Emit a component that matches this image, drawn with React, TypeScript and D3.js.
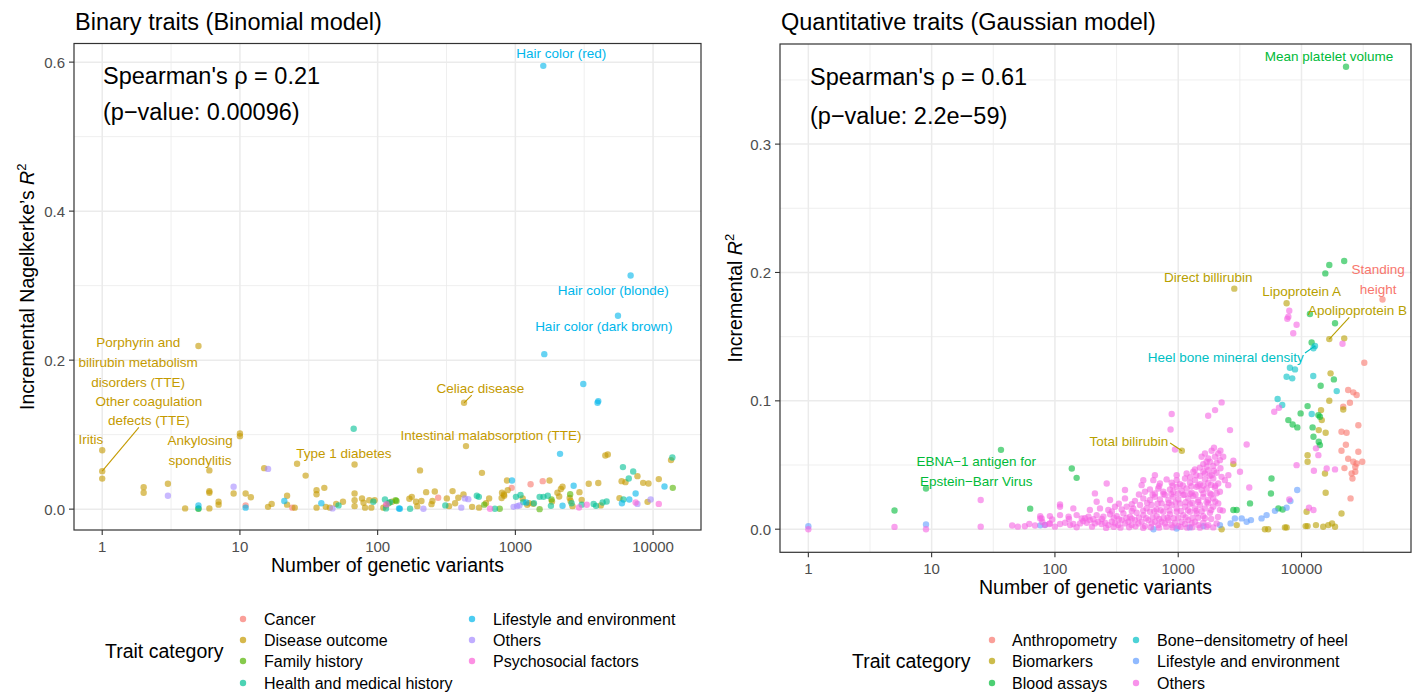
import React from 'react';
import * as d3 from 'd3';

type Pt = [number, number];

const FONT = '"Liberation Sans", Arial, Helvetica, sans-serif';

// ---------- Binary traits (Binomial model) ----------
const binaryCategories = [
  'Cancer',
  'Disease outcome',
  'Family history',
  'Health and medical history',
  'Lifestyle and environment',
  'Others',
  'Psychosocial factors',
];
const binaryColors = ['#F8766D', '#C49A00', '#53B400', '#00C094', '#00B6EB', '#A58AFF', '#FB61D7'];

const binCancer: Pt[] = [
  [11, 0.005], [24, 0.002], [115, 0.005], [275, 0.0152], [940, 0.0286], [1290, 0.0335], [1580, 0.0376],
];
const binDisease: Pt[] = [
  [5, 0.219], [1, 0.079], [1, 0.051], [1, 0.041], [2, 0.0295], [2, 0.022], [3, 0.034], [4, 0.001],
  [6, 0.052], [6, 0.024], [6, 0.022], [6, 0.001], [7, 0.01], [7, 0.006], [9, 0.021], [10, 0.1016],
  [10, 0.098], [11, 0.021], [12, 0.016], [15, 0.055], [16, 0.003], [17, 0.007], [22, 0.018], [22, 0.006],
  [25, 0.002], [26, 0.061], [30, 0.045], [36, 0.0255], [36, 0.02], [36, 0.002], [41, 0.0286], [42, 0.003],
  [45, 0.002], [50, 0.007], [56, 0.01], [68, 0.06], [68, 0.021], [68, 0.012], [68, 0.004], [77, 0.0144],
  [79, 0.0085], [81, 0.002], [87, 0.012], [90, 0.002], [95, 0.012], [110, 0.002], [127, 0.01], [170, 0.014],
  [177, 0.0165], [190, 0.01], [194, 0.004], [203, 0.052], [208, 0.011], [225, 0.0228], [246, 0.0067],
  [250, 0.011], [260, 0.0237], [318, 0.0144], [330, 0.004], [350, 0.0242], [365, 0.008], [385, 0.0152],
  [420, 0.0197], [424, 0.1427], [438, 0.0846], [485, 0.003], [545, 0.002], [572, 0.0487], [612, 0.008],
  [645, 0.0144], [795, 0.015], [800, 0.022], [825, 0.0197], [830, 0.018], [870, 0.0385], [880, 0.0255],
  [1130, 0.0144], [1220, 0.0058], [1256, 0.0081], [1349, 0.0071], [1770, 0.0385], [1845, 0.0103],
  [2020, 0.022], [2080, 0.017], [2140, 0.027], [2200, 0.03], [2480, 0.015], [2520, 0.011], [2600, 0.004],
  [2920, 0.0228], [3030, 0.0125], [3410, 0.034], [4000, 0.035], [4170, 0.005], [4500, 0.072], [4690, 0.0734],
  [5700, 0.0148], [5910, 0.0376], [6300, 0.0362], [7700, 0.0443], [8470, 0.0353], [9120, 0.0098],
  [9260, 0.0345], [11000, 0.0403], [13500, 0.0658],
];
const binFamily: Pt[] = [
  [5, 0.0005], [120, 0.008], [135, 0.012], [137, 0.011], [595, 0.006], [770, 0.0006], [1500, 0],
  [1830, 0.013], [2500, 0.02], [13900, 0.0286],
];
const binHealth: Pt[] = [
  [5, 0.001], [52, 0.005], [67, 0.108], [93, 0.01], [113, 0.013], [115, 0.001], [123, 0.0094], [172, 0.0006],
  [310, 0.005], [525, 0.018], [543, 0.0165], [710, 0.0006], [1010, 0.0165], [1090, 0.019], [1141, 0.0094],
  [1364, 0.008], [1500, 0.0165], [1600, 0.0165], [1720, 0.018], [1812, 0.0044], [2560, 0.008], [3030, 0.006],
  [3700, 0.007], [3850, 0.0044], [4300, 0.009], [4600, 0.0103], [6040, 0.0564], [6100, 0.013], [6660, 0.0412],
  [7170, 0.0506], [13800, 0.0694],
];
const binLifestyle: Pt[] = [
  [5, 0.005], [11, 0.002], [21, 0.011], [39, 0.008], [143, 0.001], [145, 0.0006], [945, 0.0385], [1200, 0.009],
  [1595, 0.595], [1622, 0.208], [2110, 0.0742], [2200, 0.0045], [2650, 0.0313], [3113, 0.168], [3950, 0.1427],
  [4000, 0.145], [5560, 0.2595], [5940, 0.008], [6720, 0.013], [6870, 0.3137], [7470, 0.021], [12100, 0.0304],
];
const binOthers: Pt[] = [
  [3, 0.018], [9, 0.03], [16, 0.054], [47, 0.001], [215, 0.0006], [405, 0.002], [430, 0.0144], [455, 0.0134],
  [970, 0.003], [1030, 0.004], [1070, 0.005], [7700, 0.007], [9600, 0.013],
];
const binPsycho: Pt[] = [
  [116, 0.0067], [655, 0.0006], [2900, 0.0023], [3300, 0.0058], [7470, 0.009], [11000, 0.007],
];
const binarySeries = [binCancer, binDisease, binFamily, binHealth, binLifestyle, binOthers, binPsycho];

// ---------- Quantitative traits (Gaussian model) ----------
const quantCategories = [
  'Anthropometry',
  'Biomarkers',
  'Blood assays',
  'Bone\u2212densitometry of heel',
  'Lifestyle and environment',
  'Others',
];
const quantColors = ['#F8766D', '#B79F00', '#00BA38', '#00BFC4', '#619CFF', '#F564E3'];

const qAnthro: Pt[] = [
  [45400, 0.179], [32300, 0.1297], [23900, 0.1084], [26300, 0.1066], [28000, 0.1045], [24700, 0.0985],
  [21800, 0.0954], [21100, 0.0759], [23200, 0.0751], [28900, 0.081], [22900, 0.0658], [21100, 0.0611],
  [28900, 0.0603], [23900, 0.0549], [26300, 0.0525], [28000, 0.0512], [31100, 0.0525], [27300, 0.0486],
  [22300, 0.0476], [25500, 0.0434], [27300, 0.0447], [25900, 0.0395], [25000, 0.024],
];
const qBio: Pt[] = [
  [2850, 0.1874], [7570, 0.176], [16800, 0.1481], [22200, 0.1487], [17200, 0.1214], [16800, 0.1001],
  [21800, 0.0933], [14400, 0.0928], [14600, 0.085], [13800, 0.0772], [15700, 0.0751], [11200, 0.0577],
  [11200, 0.0525], [15500, 0.0434], [15700, 0.0284], [21100, 0.0122], [11000, 0.0136], [1070, 0.0611],
  [2250, 0], [2980, 0.0032], [2800, 0.0507], [5050, 0], [5370, 0], [7340, 0.0014], [7570, 0.0014],
  [10800, 0.0024], [11200, 0.0024], [13100, 0.0032], [15000, 0.0019], [16500, 0.0032], [17700, 0.0045],
  [18700, 0.0019],
];
const qBlood: Pt[] = [
  [5, 0.0146], [9, 0.0317], [36.5, 0.0618], [63, 0.016], [137, 0.0473], [150, 0.04], [2800, 0.0149],
  [2980, 0.0149], [3820, 0.0201], [5650, 0.0278], [5710, 0.0395], [6490, 0.0162], [7030, 0.0154],
  [7820, 0.085], [8470, 0.0816], [9250, 0.0793], [9840, 0.0902], [11200, 0.0959], [12300, 0.0793],
  [12500, 0.072], [13800, 0.0681], [14100, 0.0655], [13700, 0.0889], [14100, 0.0876], [14300, 0.1118],
  [18300, 0.1167], [12080, 0.1455], [11700, 0.1676], [18700, 0.1604], [15600, 0.1993], [16800, 0.2058],
  [22200, 0.209], [22960, 0.3603],
];
const qBone: Pt[] = [
  [12860, 0.1427], [12500, 0.141], [8050, 0.1258], [8850, 0.1245], [7570, 0.1188], [8410, 0.1175],
  [12450, 0.1193], [19300, 0.1076], [6400, 0.1014], [6980, 0.0967], [12100, 0.0897],
];
const qLife: Pt[] = [
  [1, 0.0023], [9, 0.0037], [76, 0.003], [83, 0.0034], [630, 0], [970, 0.0006], [1240, 0.0014],
  [1600, 0.0024], [2180, 0.0032], [2660, 0.0045], [2880, 0.0084], [3270, 0.0084], [3590, 0.0058],
  [3890, 0.0071], [4740, 0.0084], [5210, 0.011], [6090, 0.0143], [7570, 0.0167], [8130, 0.0219], [9230, 0.0305],
];
const qOthers: Pt[] = [
  [1, 0], [5, 0.0018], [9, 0], [25, 0.0228], [25, 0.002], [45, 0.0029], [50, 0.002], [57, 0.0023],
  [62, 0.004], [69, 0.0029], [78, 0.0083], [79, 0.0057], [90, 0.004],
  [76, 0.0084], [83, 0.0032], [91, 0.0045], [110, 0.004], [121, 0.005], [133, 0.0032], [141, 0.004],
  [160, 0.0045], [170, 0.0063], [181, 0.005], [192, 0.0071], [211, 0.0045], [225, 0.0058], [239, 0.004],
  [255, 0.005], [271, 0.0032], [289, 0.0058], [307, 0.0045], [327, 0.0032], [348, 0.0071], [370, 0.0045],
  [394, 0.0058], [419, 0.0032], [446, 0.0071], [475, 0.0045], [505, 0.0058], [537, 0.0024], [572, 0.0071],
  [608, 0.0045], [647, 0.0058], [689, 0.0032], [733, 0.0058], [780, 0.0045], [831, 0.0071], [885, 0.0032],
  [941, 0.005], [1002, 0.0024], [1066, 0.0058], [1135, 0.004], [1207, 0.0071], [1285, 0.0045],
  [1367, 0.0058], [1455, 0.0032], [1597, 0.005], [1753, 0.0032], [1924, 0.0014], [2048, 0.0045],
  [100, 0.002], [150, 0.0015], [200, 0.002], [260, 0.001], [300, 0.0018], [340, 0.0012], [400, 0.0015],
  [450, 0.0022], [520, 0.001], [600, 0.0015], [700, 0.0012], [800, 0.002], [900, 0.0014], [1050, 0.0018],
  [1180, 0.0012], [1300, 0.0015], [1500, 0.0012], [1700, 0.002],
  [95, 0.0075], [130, 0.008], [175, 0.0085], [205, 0.0078], [240, 0.008], [300, 0.009], [330, 0.0078],
  [380, 0.0088], [420, 0.0082], [480, 0.009], [550, 0.0085], [620, 0.0092], [700, 0.008], [760, 0.0088],
  [820, 0.009], [920, 0.0085], [1000, 0.009], [1150, 0.0092], [1300, 0.0088], [1450, 0.009], [1650, 0.0085],
  [1850, 0.008], [2100, 0.0095],
  [76, 0.0102], [91, 0.0102], [110, 0.011], [129, 0.0097], [150, 0.011], [165, 0.0084], [187, 0.0097],
  [218, 0.011], [247, 0.0097], [280, 0.0117], [317, 0.0102], [359, 0.0123], [406, 0.0097], [460, 0.0128],
  [521, 0.011], [590, 0.0136], [668, 0.0102], [757, 0.0136], [857, 0.0117], [971, 0.0136], [1100, 0.011],
  [1245, 0.0136], [1410, 0.0123], [1597, 0.0102], [1808, 0.0128],
  [290, 0.0138], [420, 0.0142], [520, 0.0145], [640, 0.014], [720, 0.0148], [850, 0.0145], [1050, 0.0142],
  [1200, 0.0148], [1400, 0.0145], [1550, 0.014], [1850, 0.015], [2300, 0.0145],
  [110, 0.0175], [141, 0.0162], [192, 0.0149], [232, 0.0162], [271, 0.0149], [307, 0.0175], [348, 0.0154],
  [382, 0.0175], [432, 0.0162], [490, 0.0188], [554, 0.0162], [608, 0.0188], [668, 0.0154], [733, 0.0201],
  [805, 0.0175], [885, 0.0188], [971, 0.0162], [1033, 0.0201], [1135, 0.0175], [1245, 0.0195],
  [1367, 0.0162], [1501, 0.0188], [1648, 0.0162], [1753, 0.0201], [1924, 0.0175], [2179, 0.0149],
  [330, 0.0198], [420, 0.0195], [560, 0.0205], [680, 0.0198], [840, 0.0205], [950, 0.0208], [1150, 0.021],
  [1300, 0.0205], [1450, 0.0212], [1700, 0.021], [2000, 0.0215],
  [110, 0.0193], [218, 0.0214], [280, 0.0227], [370, 0.024], [446, 0.0221], [521, 0.024], [590, 0.0227],
  [647, 0.0252], [711, 0.0232], [780, 0.0266], [831, 0.0227], [912, 0.0252], [1002, 0.0232], [1100, 0.0266],
  [1207, 0.024], [1325, 0.0258], [1455, 0.0227], [1597, 0.0252], [1753, 0.0227], [1924, 0.024], [2112, 0.0201],
  [480, 0.027], [620, 0.0268], [760, 0.0275], [880, 0.0272], [1000, 0.0278], [1120, 0.027], [1250, 0.0275],
  [1380, 0.027], [1600, 0.0278], [1850, 0.027], [2050, 0.028],
  [211, 0.0279], [370, 0.0305], [537, 0.0292], [590, 0.031], [647, 0.0279], [689, 0.0317], [757, 0.0292],
  [857, 0.031], [912, 0.0292], [971, 0.033], [1066, 0.0299], [1170, 0.0317], [1285, 0.0284], [1410, 0.033],
  [1548, 0.0305], [1700, 0.0317], [1808, 0.0279], [1985, 0.0325], [2179, 0.0292],
  [700, 0.0335], [900, 0.0338], [1090, 0.034], [1280, 0.0335], [1450, 0.034], [1600, 0.034], [1850, 0.0345],
  [2000, 0.0338],
  [263, 0.0356], [505, 0.0343], [628, 0.0382], [711, 0.0356], [805, 0.0388], [885, 0.0362], [971, 0.0382],
  [1033, 0.0351], [1135, 0.0395], [1245, 0.0362], [1367, 0.0382], [1501, 0.0351], [1648, 0.0388],
  [1753, 0.0362], [1924, 0.0395], [2112, 0.0356], [2392, 0.0382], [2545, 0.0343],
  [521, 0.0382], [647, 0.0421], [971, 0.0421], [1170, 0.0434], [1325, 0.0447], [1501, 0.0414],
  [1648, 0.0434], [1753, 0.046], [1865, 0.0421], [2048, 0.044], [2248, 0.0408],
  [1250, 0.0405], [1400, 0.042], [1600, 0.045], [1800, 0.0415], [1950, 0.0455], [2200, 0.0475],
  [1500, 0.048], [1700, 0.0525],
  [1367, 0.0466], [1597, 0.0507], [1700, 0.0486], [1808, 0.0525], [1924, 0.0492], [2048, 0.0517],
  [2179, 0.0538], [1985, 0.0564], [1753, 0.0551],
  [1548, 0.0564], [1648, 0.059], [1865, 0.0611], [2112, 0.059], [2318, 0.0564], [1950, 0.0635], [2200, 0.0612],
  [2250, 0.0988], [1990, 0.0928], [1750, 0.0884], [885, 0.0897], [867, 0.0777], [942, 0.0621],
  [2630, 0.0772], [3590, 0.066], [2800, 0.0533], [3170, 0.0447], [3770, 0.0325], [2550, 0.0421],
  [7960, 0.0231], [11500, 0.0167], [12500, 0.0149], [18700, 0.0466], [16000, 0.0473], [12600, 0.0455],
  [9120, 0.0499], [13700, 0.0577], [13100, 0.063], [6560, 0.0946], [6010, 0.0915], [7960, 0.1702],
  [7820, 0.1655], [7670, 0.164], [9120, 0.1593], [8570, 0.1526], [21500, 0.1445],
];
const quantSeries = [qAnthro, qBio, qBlood, qBone, qLife, qOthers];

// ---------- shared axis ticks ----------
const xTicks = [1, 10, 100, 1000, 10000];
const xMinor = [10 ** -0.5, 10 ** 0.5, 10 ** 1.5, 10 ** 2.5, 10 ** 3.5, 10 ** 4.5];
const binaryYTicks = [0, 0.2, 0.4, 0.6];
const binaryYMinor = [0.1, 0.3, 0.5];
const quantYTicks = [0, 0.1, 0.2, 0.3];
const quantYMinor = [0.05, 0.15, 0.25, 0.35];

// ---------- text annotations (label offsets in px from the point) ----------
type Note = { lines: string[]; cat: number; at: Pt; dx: number; dy: number; seg?: [number, number] };

const binaryNotes: Note[] = [
  { lines: ['Hair color (red)'], cat: 4, at: [1595, 0.595], dx: 18, dy: -12.4 },
  { lines: ['Hair color (blonde)'], cat: 4, at: [6870, 0.3137], dx: -17.4, dy: 14.7 },
  { lines: ['Hair color (dark brown)'], cat: 4, at: [5560, 0.2595], dx: -14.2, dy: 10.3 },
  { lines: ['Celiac disease'], cat: 1, at: [424, 0.1427], dx: 16.3, dy: -14, seg: [7.7, -7.7] },
  { lines: ['Intestinal malabsorption (TTE)'], cat: 1, at: [438, 0.0846], dx: 25, dy: -11 },
  { lines: ['Type 1 diabetes'], cat: 1, at: [68, 0.06], dx: -10.7, dy: -10.7 },
  { lines: ['Ankylosing', 'spondylitis'], cat: 1, at: [6, 0.052], dx: -9.3, dy: -20 },
  { lines: ['Iritis'], cat: 1, at: [1, 0.079], dx: -11.3, dy: -10.7 },
  { lines: ['Other coagulation', 'defects (TTE)'], cat: 1, at: [1, 0.051], dx: 46.7, dy: -60, seg: [36.7, -43.7] },
  { lines: ['Porphyrin and', 'bilirubin metabolism', 'disorders (TTE)'], cat: 1, at: [5, 0.219], dx: -60.3, dy: 16.5 },
];

const quantNotes: Note[] = [
  { lines: ['Mean platelet volume'], cat: 2, at: [22960, 0.3603], dx: -17, dy: -10.7 },
  { lines: ['Standing', 'height'], cat: 0, at: [45400, 0.179], dx: -4.4, dy: -20 },
  { lines: ['Direct billirubin'], cat: 1, at: [2850, 0.1874], dx: -26, dy: -11.4 },
  { lines: ['Lipoprotein A'], cat: 1, at: [7570, 0.176], dx: 15, dy: -11.6 },
  { lines: ['Apolipoprotein B'], cat: 1, at: [16800, 0.1481], dx: 28.2, dy: -28.3, seg: [20, -21.7] },
  { lines: ['Heel bone mineral density'], cat: 3, at: [12860, 0.1427], dx: -89.2, dy: 11.7, seg: [-10, 7] },
  { lines: ['Total bilirubin'], cat: 1, at: [1070, 0.0611], dx: -52.9, dy: -9.7, seg: [-11.7, -7.7] },
  { lines: ['EBNA\u22121 antigen for', 'Epstein\u2212Barr Virus'], cat: 2, at: [36.5, 0.0618], dx: -24.7, dy: 21.5 },
];

type PanelCfg = {
  title: string;
  yTitle: string;
  left: number; right: number; top: number; bottom: number;
  xDomain: [number, number];
  yDomain: [number, number];
  yTicks: number[];
  yMinor: number[];
  series: Pt[][];
  colors: string[];
  cats: string[];
  notes: Note[];
  stat: string[];
  statX: number;
  statY: number[];
  yTitleX: number;
  tickLabelY: number;
  xTitleY: number;
  legend: { titleX: number; titleY: number; keyX: number[]; labelX: number[]; rowY: number[]; perCol: number };
};

const panels: PanelCfg[] = [
  {
    title: 'Binary traits (Binomial model)',
    yTitle: 'Incremental Nagelkerke\u2019s ',
    left: 74, right: 701, top: 43.5, bottom: 530,
    xDomain: [0.624, 22280],
    yDomain: [-0.028, 0.625],
    yTicks: binaryYTicks, yMinor: binaryYMinor,
    series: binarySeries, colors: binaryColors, cats: binaryCategories, notes: binaryNotes,
    stat: ["Spearman's \u03C1 = 0.21", '(p\u2212value: 0.00096)'],
    statX: 103, statY: [83.5, 119.5],
    yTitleX: 34, tickLabelY: 552, xTitleY: 572,
    legend: { titleX: 105, titleY: 651, keyX: [243, 472], labelX: [264, 493], rowY: [619, 640, 661, 683], perCol: 4 },
  },
  {
    title: 'Quantitative traits (Gaussian model)',
    yTitle: 'Incremental ',
    left: 780, right: 1411, top: 44, bottom: 552.3,
    xDomain: [0.589, 77270],
    yDomain: [-0.018, 0.378],
    yTicks: quantYTicks, yMinor: quantYMinor,
    series: quantSeries, colors: quantColors, cats: quantCategories, notes: quantNotes,
    stat: ["Spearman's \u03C1 = 0.61", '(p\u2212value: 2.2e\u221259)'],
    statX: 810, statY: [85, 123.5],
    yTitleX: 742, tickLabelY: 574, xTitleY: 594,
    legend: { titleX: 852, titleY: 661, keyX: [992, 1136], labelX: [1012, 1157], rowY: [640, 661, 683], perCol: 3 },
  },
];

const fmtY = d3.format('.1f');

function Panel({ p }: { p: PanelCfg }) {
  const x = d3.scaleLog().domain(p.xDomain).range([p.left, p.right]);
  const y = d3.scaleLinear().domain(p.yDomain).range([p.bottom, p.top]);
  const inX = (v: number) => v >= p.xDomain[0] && v <= p.xDomain[1];
  const midY = (p.top + p.bottom) / 2;
  const midX = (p.left + p.right) / 2;
  const lineH = 19.6;

  return (
    <g>
      {/* title */}
      <text x={p.left + 1} y={30} fontSize={23.5} fill="#000">{p.title}</text>

      {/* panel background + grid */}
      <rect x={p.left} y={p.top} width={p.right - p.left} height={p.bottom - p.top} fill="#fff" />
      {p.yMinor.map((v) => (
        <line key={'ym' + v} x1={p.left} x2={p.right} y1={y(v)} y2={y(v)} stroke="#EBEBEB" strokeWidth={0.8} />
      ))}
      {xMinor.filter(inX).map((v) => (
        <line key={'xm' + v} x1={x(v)} x2={x(v)} y1={p.top} y2={p.bottom} stroke="#EBEBEB" strokeWidth={0.8} />
      ))}
      {p.yTicks.map((v) => (
        <line key={'yM' + v} x1={p.left} x2={p.right} y1={y(v)} y2={y(v)} stroke="#EBEBEB" strokeWidth={1.5} />
      ))}
      {xTicks.map((v) => (
        <line key={'xM' + v} x1={x(v)} x2={x(v)} y1={p.top} y2={p.bottom} stroke="#EBEBEB" strokeWidth={1.5} />
      ))}

      {/* points */}
      {p.series.map((pts, ci) =>
        pts.map((d, i) => (
          <circle key={ci + '-' + i} cx={x(d[0])} cy={y(d[1])} r={3.2} fill={p.colors[ci]} fillOpacity={0.6} />
        ))
      )}

      {/* repel-style labels */}
      {p.notes.map((n, i) => {
        const px = x(n.at[0]);
        const py = y(n.at[1]);
        const cx = px + n.dx;
        const cy = py + n.dy;
        const y0 = cy - ((n.lines.length - 1) * lineH) / 2;
        return (
          <g key={'n' + i}>
            {n.seg && (
              <line x1={px} y1={py} x2={px + n.seg[0]} y2={py + n.seg[1]} stroke={p.colors[n.cat]} strokeWidth={1.1} />
            )}
            <text textAnchor="middle" fontSize={13.5} fill={p.colors[n.cat]}>
              {n.lines.map((l, j) => (
                <tspan key={j} x={cx} y={y0 + j * lineH} dominantBaseline="central">{l}</tspan>
              ))}
            </text>
          </g>
        );
      })}

      {/* correlation annotation */}
      {p.stat.map((s, i) => (
        <text key={'s' + i} x={p.statX} y={p.statY[i]} fontSize={23.5} fill="#000">{s}</text>
      ))}

      {/* border */}
      <rect x={p.left} y={p.top} width={p.right - p.left} height={p.bottom - p.top} fill="none" stroke="#333333" strokeWidth={1.2} />

      {/* y axis */}
      {p.yTicks.map((v) => (
        <g key={'yt' + v}>
          <line x1={p.left - 5} x2={p.left} y1={y(v)} y2={y(v)} stroke="#333333" strokeWidth={1.1} />
          <text x={p.left - 9} y={y(v)} textAnchor="end" dominantBaseline="central" fontSize={15} fill="#4D4D4D">{fmtY(v)}</text>
        </g>
      ))}
      {/* x axis */}
      {xTicks.map((v) => (
        <g key={'xt' + v}>
          <line x1={x(v)} x2={x(v)} y1={p.bottom} y2={p.bottom + 5} stroke="#333333" strokeWidth={1.1} />
          <text x={x(v)} y={p.tickLabelY} textAnchor="middle" fontSize={15} fill="#4D4D4D">{d3.format('d')(v)}</text>
        </g>
      ))}

      <text x={midX} y={p.xTitleY} textAnchor="middle" fontSize={19.5} fill="#000">Number of genetic variants</text>
      <text transform={`translate(${p.yTitleX},${midY}) rotate(-90)`} textAnchor="middle" fontSize={19.5} fill="#000">
        {p.yTitle}
        <tspan fontStyle="italic">R</tspan>
        <tspan fontSize={13} dy={-8}>2</tspan>
      </text>

      {/* legend */}
      <text x={p.legend.titleX} y={p.legend.titleY} dominantBaseline="central" fontSize={19.5} fill="#000">Trait category</text>
      {p.cats.map((c, i) => {
        const col = Math.floor(i / p.legend.perCol);
        const row = i % p.legend.perCol;
        const ry = p.legend.rowY[row];
        return (
          <g key={'lg' + i}>
            <circle cx={p.legend.keyX[col]} cy={ry} r={3.2} fill={p.colors[i]} fillOpacity={0.7} />
            <text x={p.legend.labelX[col]} y={ry} dominantBaseline="central" fontSize={16} fill="#000">{c}</text>
          </g>
        );
      })}
    </g>
  );
}

export default function App() {
  return (
    <svg
      width={1416}
      height={692}
      style={{ position: 'absolute', left: 0, top: 0, background: '#fff' }}
      fontFamily={FONT}
    >
      <rect width={1416} height={692} fill="#fff" />
      {panels.map((p, i) => (
        <Panel key={i} p={p} />
      ))}
    </svg>
  );
}
